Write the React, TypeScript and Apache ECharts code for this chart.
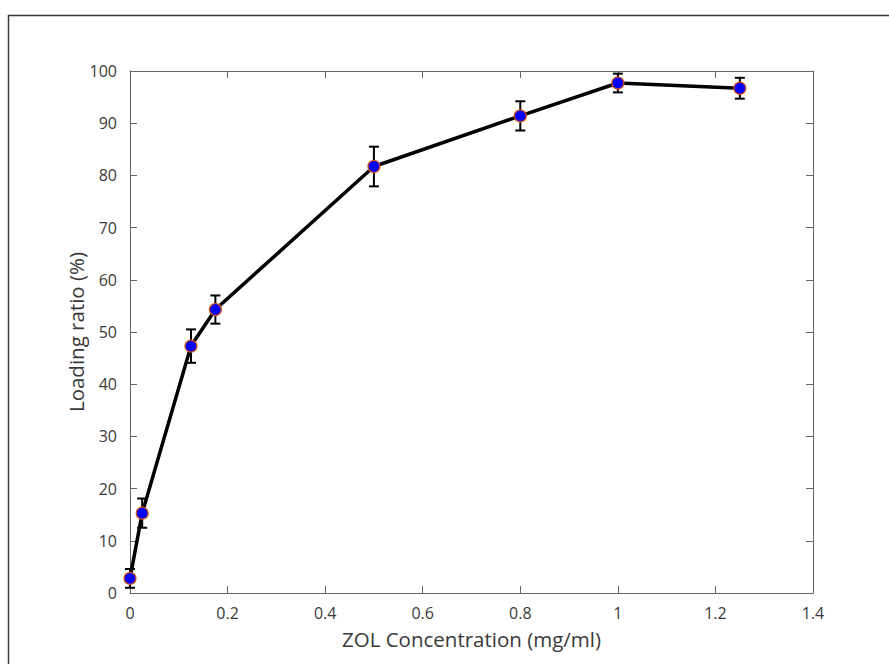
import React, { useEffect, useRef } from "react";
import * as echarts from "echarts";

const concentrations = [0, 0.025, 0.125, 0.175, 0.5, 0.8, 1.0, 1.25];
const loadingRatio = [2.8, 15.3, 47.3, 54.3, 81.7, 91.4, 97.7, 96.7];
const loadingError = [1.8, 2.8, 3.2, 2.7, 3.8, 2.8, 1.8, 2.0];

const xTitle = "ZOL Concentration (mg/ml)";
const yTitle = "Loading ratio (%)";

export default function App() {
  const ref = useRef<HTMLDivElement>(null);
  useEffect(() => {
    if (!ref.current) return;
    const chart = echarts.init(ref.current, null, { renderer: "svg" });
    const pts = concentrations.map((x, i) => [x, loadingRatio[i]]);
    const errs = concentrations.map((x, i) => [x, loadingRatio[i], loadingRatio[i] + loadingError[i], loadingRatio[i] - loadingError[i]]);
    const axisColor = "#666666";
    const labelColor = "#3a3a3a";
    const font = "'Open Sans', 'Noto Sans', sans-serif";
    const tick = { show: true, inside: true, length: 7, lineStyle: { color: axisColor, width: 1 } };
    const line = { show: true, onZero: false, lineStyle: { color: axisColor, width: 1 } };
    chart.setOption({
      animation: false,
      backgroundColor: "#ffffff",
      grid: { left: 130, right: 76, top: 71, bottom: 71, containLabel: false },
      graphic: [
        { type: "line", shape: { x1: 8.5, y1: 15, x2: 8.5, y2: 664 }, style: { stroke: "#3a3a3a", lineWidth: 1.5 } },
        { type: "line", shape: { x1: 8, y1: 15.5, x2: 889, y2: 15.5 }, style: { stroke: "#3a3a3a", lineWidth: 1.5 } },
      ],
      xAxis: [
        {
          type: "value", min: 0, max: 1.4, interval: 0.2, position: "bottom",
          name: xTitle, nameLocation: "middle", nameGap: 35, nameMoveOverlap: false,
          nameTextStyle: { color: labelColor, fontSize: 20.5, lineHeight: 21, fontFamily: font },
          axisLine: line,
          axisTick: tick,
          axisLabel: { color: labelColor, fontSize: 16, lineHeight: 16, fontFamily: font, margin: 12 },
          splitLine: { show: false },
        },
        {
          type: "value", min: 0, max: 1.4, interval: 0.2, position: "top",
          axisLine: line,
          axisTick: tick,
          axisLabel: { show: false },
          splitLine: { show: false },
        },
      ],
      yAxis: [
        {
          type: "value", min: 0, max: 100, interval: 10, position: "left",
          name: yTitle, nameLocation: "middle", nameGap: 44, nameMoveOverlap: false,
          nameTextStyle: { color: labelColor, fontSize: 20.5, lineHeight: 21, fontFamily: font },
          axisLine: line,
          axisTick: tick,
          axisLabel: { color: labelColor, fontSize: 16, lineHeight: 16, fontFamily: font, margin: 13 },
          splitLine: { show: false },
        },
        {
          type: "value", min: 0, max: 100, interval: 10, position: "right",
          axisLine: line,
          axisTick: tick,
          axisLabel: { show: false },
          splitLine: { show: false },
        },
      ],
      series: [
        {
          type: "line", data: pts, showSymbol: false, symbol: "none",
          lineStyle: { color: "#000000", width: 3.5 }, z: 2,
        },
        {
          type: "custom", data: errs, z: 3,
          renderItem: (params: any, api: any) => {
            const x = api.value(0);
            const hi = api.coord([x, api.value(2)]);
            const lo = api.coord([x, api.value(3)]);
            const w = 5;
            const st = { stroke: "#000000", lineWidth: 2 };
            return {
              type: "group",
              children: [
                { type: "line", shape: { x1: hi[0], y1: hi[1], x2: lo[0], y2: lo[1] }, style: st },
                { type: "line", shape: { x1: hi[0] - w, y1: hi[1], x2: hi[0] + w, y2: hi[1] }, style: st },
                { type: "line", shape: { x1: lo[0] - w, y1: lo[1], x2: lo[0] + w, y2: lo[1] }, style: st },
              ],
            };
          },
        },
        {
          type: "scatter", data: pts, symbol: "circle", symbolSize: 12, z: 4,
          itemStyle: { color: "#0000ff", borderColor: "#d95319", borderWidth: 1.2, opacity: 1 },
        },
      ],
    });
    return () => chart.dispose();
  }, []);
  return <div ref={ref} style={{ position: "absolute", left: 0, top: 0, width: 889, height: 664 }} />;
}
